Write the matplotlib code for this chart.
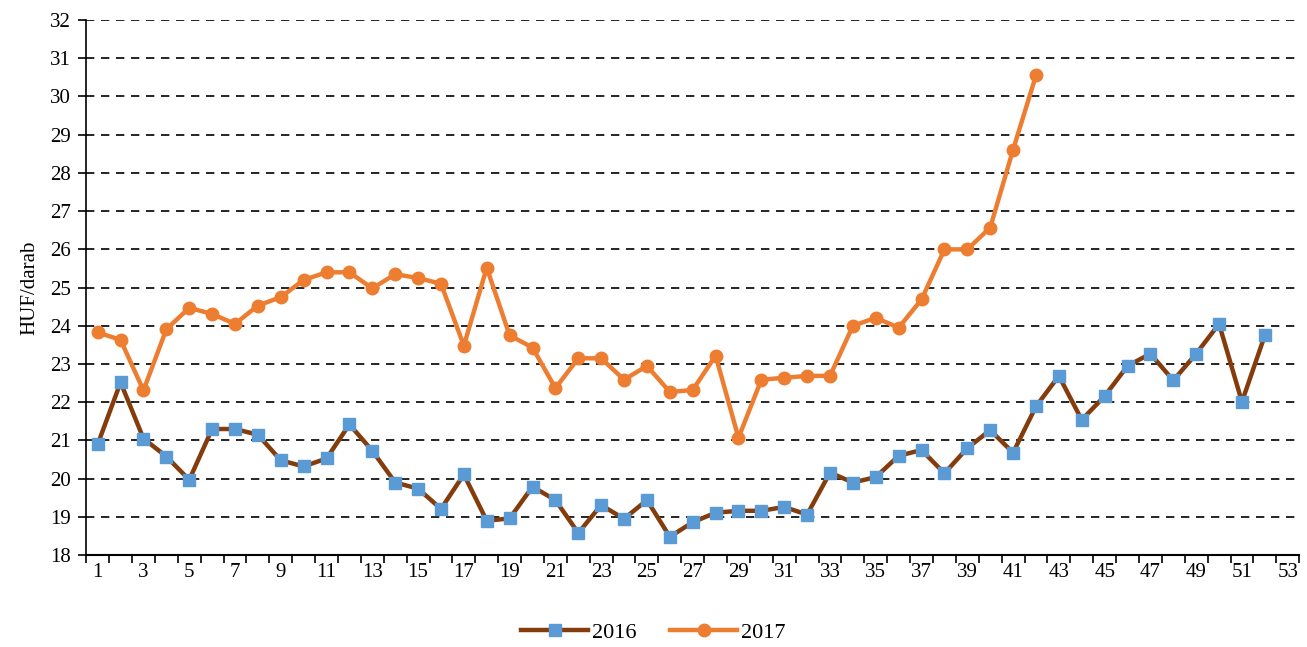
import numpy as np
import matplotlib.pyplot as plt
from matplotlib.ticker import MultipleLocator, FixedLocator

plt.rcParams['font.family'] = ['Liberation Serif', 'DejaVu Serif']

weeks_2016 = list(range(1, 53))
price_2016 = [20.90, 22.52, 21.05, 20.58, 19.97, 21.30, 21.30, 21.15, 20.48, 20.32,
              20.53, 21.42, 20.73, 19.90, 19.74, 19.21, 20.11, 18.90, 18.96, 19.79,
              19.44, 18.58, 19.31, 18.95, 19.44, 18.48, 18.86, 19.11, 19.16, 19.16,
              19.26, 19.06, 20.16, 19.90, 20.04, 20.60, 20.75, 20.14, 20.80, 21.27,
              20.68, 21.89, 22.69, 21.54, 22.16, 22.95, 23.27, 22.57, 23.27, 24.05,
              22.01, 23.75]

weeks_2017 = list(range(1, 43))
price_2017 = [23.83, 23.63, 22.31, 23.91, 24.47, 24.31, 24.05, 24.53, 24.75, 25.20,
              25.40, 25.40, 24.98, 25.35, 25.25, 25.10, 23.48, 25.52, 23.75, 23.43,
              22.37, 23.15, 23.15, 22.59, 22.95, 22.27, 22.32, 23.22, 21.07, 22.59,
              22.64, 22.69, 22.69, 24.00, 24.21, 23.95, 24.69, 26.00, 26.00, 26.57,
              28.61, 30.55]

fig = plt.figure(figsize=(13.07, 6.47), dpi=100)
ax = fig.add_axes([0.066, 0.142, 0.928, 0.827])

ax.plot(weeks_2016, price_2016, color='#843C0C', lw=3.2, marker='s', ms=9,
        mfc='#5B9BD5', mec='#5B9BD5', label='2016', solid_joinstyle='round')
ax.plot(weeks_2017, price_2017, color='#ED7D31', lw=3.2, marker='o', ms=9,
        mfc='#ED7D31', mec='#ED7D31', label='2017', solid_joinstyle='round')

ax.set_xlim(0.5, 53.5)
ax.set_ylim(18, 32)
ax.xaxis.set_major_locator(FixedLocator(np.arange(0.5, 54, 1)))
ax.xaxis.set_major_formatter(plt.NullFormatter())
ax.xaxis.set_minor_locator(FixedLocator(np.arange(1, 54, 2)))
ax.xaxis.set_minor_formatter(plt.FuncFormatter(lambda v, p: str(int(round(v)))))
ax.tick_params(axis='x', which='major', length=6, width=1.2, direction='out')
ax.tick_params(axis='x', which='minor', length=0, labelsize=15, pad=6)
ax.yaxis.set_major_locator(MultipleLocator(1))
ax.tick_params(axis='y', length=6, width=1.2, labelsize=15, pad=5)

ax.grid(axis='y', color='black', linestyle=(0, (5, 4)), lw=1.2)
ax.set_axisbelow(True)
for s in ['top', 'right']:
    ax.spines[s].set_visible(False)
ax.spines['left'].set_linewidth(1.2)
ax.spines['bottom'].set_linewidth(1.5)

ax.set_ylabel('HUF/darab', fontsize=15, labelpad=8)

fig.legend(loc='lower center', ncol=2, frameon=False, fontsize=16,
           bbox_to_anchor=(0.5, -0.025), handlelength=3, columnspacing=1.5,
           handletextpad=0.2)

fig.savefig('out.png', dpi=100)
